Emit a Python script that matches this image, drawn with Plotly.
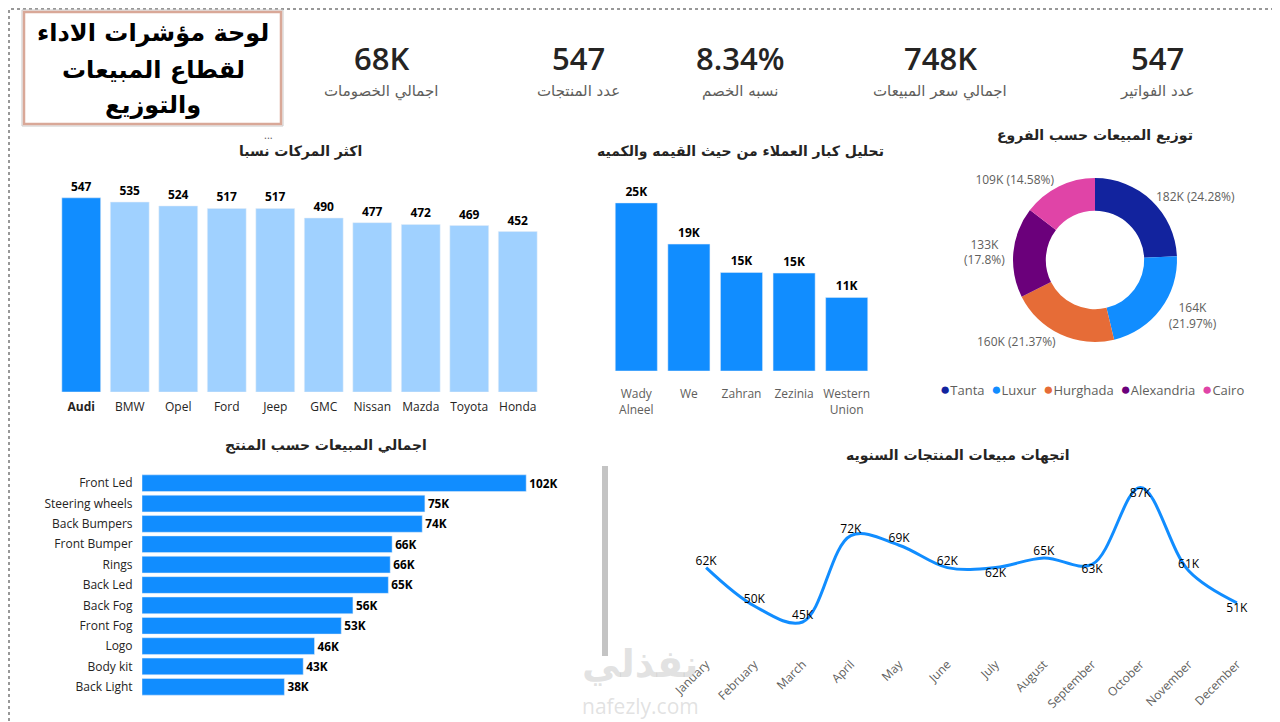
import plotly.graph_objects as go

# ---- data ----
title_lines = ["لوحة مؤشرات الاداء", "لقطاع المبيعات", "والتوزيع"]

kpi_values = ["68K", "547", "8.34%", "748K", "547"]
kpi_labels = ["اجمالي الخصومات", "عدد المنتجات", "نسبه الخصم", "اجمالي سعر المبيعات", "عدد الفواتير"]

brands = ["Audi", "BMW", "Opel", "Ford", "Jeep", "GMC", "Nissan", "Mazda", "Toyota", "Honda"]
brand_counts = [547, 535, 524, 517, 517, 490, 477, 472, 469, 452]

customers = ["Wady<br>Alneel", "We", "Zahran", "Zezinia", "Western<br>Union"]
customer_sales = [24.9, 18.8, 14.6, 14.5, 10.9]  # thousands

branches = ["Tanta", "Luxur", "Hurghada", "Alexandria", "Cairo"]
branch_sales = [181.6, 164.3, 159.8, 133.1, 109.0]  # thousands
branch_colors = ["#12239E", "#118DFF", "#E66C37", "#6B007B", "#E044A7"]

products = ["Front Led", "Steering wheels", "Back Bumpers", "Front Bumper", "Rings", "Back Led",
            "Back Fog", "Front Fog", "Logo", "Body kit", "Back Light"]
product_sales = [102.0, 75.1, 74.4, 66.4, 65.9, 65.4, 56.0, 52.9, 45.8, 42.8, 37.8]  # thousands

months = ["January", "February", "March", "April", "May", "June", "July", "August",
          "September", "October", "November", "December"]
month_sales = [62, 50, 45, 72, 69, 62, 62, 65, 63, 87, 61, 51]  # thousands

BLUE = "#118DFF"
LIGHT = "#A0D1FF"
GREY = "#605E5C"
DARK = "#252423"
AR = "DejaVu Sans"
EN = "Open Sans"

# the page puts the plot 8px in from the top-left corner; positions below are screen pixels
OFF = 8


def px(x):
    return (x - OFF) / 1280


def py(y):
    return 1 - (y - OFF) / 722


fig = go.Figure()

# brands bar chart
fig.add_trace(go.Bar(
    x=brands, y=brand_counts, xaxis="x", yaxis="y",
    marker_color=[BLUE] + [LIGHT] * (len(brands) - 1),
    text=brand_counts, textposition="outside", cliponaxis=False,
    textfont=dict(family=EN, size=12, color="#000", weight="bold"),
    showlegend=False,
))

# customers bar chart
fig.add_trace(go.Bar(
    x=customers, y=customer_sales, xaxis="x2", yaxis="y2",
    marker_color=BLUE,
    texttemplate="%{y:.0f}K", textposition="outside", cliponaxis=False,
    textfont=dict(family=EN, size=12, color="#000", weight="bold"),
    showlegend=False,
))

# branches donut
total = sum(branch_sales)
pie_sep = [" ", "<br>", " ", "<br>", " "]
pie_text = []
for v, sep in zip(branch_sales, pie_sep):
    p = round(v / total * 100, 2)
    pie_text.append(f"{v:.0f}K{sep}({p:g}%)")
fig.add_trace(go.Pie(
    labels=branches, values=branch_sales, text=pie_text, textinfo="text",
    textposition="outside", hole=0.6, sort=False, direction="clockwise",
    marker=dict(colors=branch_colors),
    textfont=dict(family=EN, size=12, color=GREY),
    domain=dict(x=[px(1095 - 122), px(1095 + 122)], y=[py(342), py(178)]),
    showlegend=False,
))

# products horizontal bars
fig.add_trace(go.Bar(
    y=products, x=product_sales, orientation="h", xaxis="x3", yaxis="y3",
    marker_color=BLUE, width=0.82,
    texttemplate="%{x:.0f}K", textposition="outside", cliponaxis=False,
    textfont=dict(family=EN, size=12, color="#000", weight="bold"),
    showlegend=False,
))

# monthly trend line
fig.add_trace(go.Scatter(
    x=months, y=month_sales, xaxis="x4", yaxis="y4", mode="lines+text",
    line=dict(color=BLUE, width=3, shape="spline", smoothing=1.0),
    text=[f"{v}K" for v in month_sales],
    textposition=["top center", "top center", "top center", "top center", "top center",
                  "top center", "bottom center", "top center", "bottom center",
                  "bottom center", "top center", "bottom center"],
    textfont=dict(family=EN, size=12, color="#000"),
    cliponaxis=False, showlegend=False,
))

hidden = dict(visible=False, showgrid=False, zeroline=False, automargin=False)

fig.update_layout(
    width=1280, height=722,
    margin=dict(l=0, r=0, t=0, b=0, autoexpand=False),
    paper_bgcolor="white", plot_bgcolor="white",
    bargap=0.2, showlegend=False,
    xaxis=dict(domain=[px(57), px(542)], anchor="y", showgrid=False, automargin=False,
               ticks="outside", ticklen=4, tickcolor="white",
               tickmode="array", tickvals=brands,
               ticktext=["<b>Audi</b>"] + brands[1:],
               tickfont=dict(family=EN, size=12, color=DARK)),
    yaxis=dict(domain=[py(392), py(179)], range=[0, 600], anchor="x", **hidden),
    xaxis2=dict(domain=[px(610), px(873)], anchor="y2", showgrid=False, automargin=False,
                ticks="outside", ticklen=12, tickcolor="white",
                tickfont=dict(family=EN, size=12, color=GREY)),
    yaxis2=dict(domain=[py(371), py(182)], range=[0, 28], anchor="x2", **hidden),
    xaxis3=dict(domain=[px(142), px(594)], anchor="y3", range=[0, 120], **hidden),
    yaxis3=dict(domain=[py(697), py(473)], anchor="x3", autorange="reversed", automargin=False,
                showgrid=False, ticks="outside", ticklen=6, tickcolor="white",
                tickfont=dict(family=EN, size=12, color=DARK)),
    xaxis4=dict(domain=[px(682), px(1261)], anchor="y4", showgrid=False, ticks="", automargin=False,
                tickangle=-45, range=[-0.5, 11.5],
                tickfont=dict(family=EN, size=12, color=GREY)),
    yaxis4=dict(domain=[py(654), py(462)], anchor="x4", range=[35, 95], **hidden),
    font=dict(family=EN),
)

shapes = [
    # dashboard dotted frame
    dict(type="rect", xref="paper", yref="paper", x0=px(9), y0=py(728), x1=px(1290), y1=py(9),
         line=dict(color="#777", width=1.5, dash="dot")),
    # title box
    dict(type="rect", xref="paper", yref="paper", x0=px(22), y0=py(126), x1=px(283), y1=py(10),
         line=dict(color="#C9C9C9", width=1)),
    dict(type="rect", xref="paper", yref="paper", x0=px(24), y0=py(124), x1=px(281), y1=py(12),
         line=dict(color="#D9A898", width=2.5)),
    # scrollbar
    dict(type="rect", xref="paper", yref="paper", x0=px(602), y0=py(656), x1=px(608), y1=py(466),
         line=dict(width=0), fillcolor="#C4C4C4"),
]

legend_html = "  ".join(
    f"<span style='color:{c};font-size:17px'>●</span>{name}" for name, c in zip(branches, branch_colors)
)

annotations = [
    dict(text="<b>اكثر المركات نسبا</b>", x=px(300), y=py(151), font=dict(family=AR, size=14, color=DARK)),
    dict(text="...", x=px(268), y=py(134), font=dict(family=EN, size=11, color=GREY)),
    dict(text="<b>تحليل كبار العملاء من حيث القيمه والكميه</b>", x=px(740), y=py(151),
         font=dict(family=AR, size=14, color=DARK)),
    dict(text="<b>توزيع المبيعات حسب الفروع</b>", x=px(1095), y=py(136), font=dict(family=AR, size=14, color=DARK)),
    dict(text="<b>اجمالي المبيعات حسب المنتج</b>", x=px(326), y=py(445), font=dict(family=AR, size=14, color=DARK)),
    dict(text="<b>اتجهات مبيعات المنتجات السنويه</b>", x=px(958), y=py(455), font=dict(family=AR, size=14, color=DARK)),
    dict(text=legend_html, x=px(1092), y=py(388), font=dict(family=EN, size=13, color=GREY)),
    # watermark
    dict(text="<b>نفذلي</b>", x=px(640), y=py(664), font=dict(family=AR, size=38, color="rgba(190,190,190,0.45)")),
    dict(text="nafezly.com", x=px(640), y=py(706), font=dict(family=EN, size=21, color="rgba(190,190,190,0.45)")),
]

for yv, line in zip([33, 70, 105], title_lines):
    annotations.append(dict(text=f"<b>{line}</b>", x=px(153), y=py(yv),
                            font=dict(family=AR, size=24, color="#000")))

kpi_x = [381, 578, 740, 940, 1157]
for xv, val, lab in zip(kpi_x, kpi_values, kpi_labels):
    annotations.append(dict(text=val, x=px(xv), y=py(58), font=dict(family=EN, size=31, color=DARK, weight=600)))
    annotations.append(dict(text=lab, x=px(xv), y=py(91), font=dict(family=AR, size=15, color=GREY)))

for a in annotations:
    a.update(xref="paper", yref="paper", showarrow=False, xanchor="center", yanchor="middle")

fig.update_layout(shapes=shapes, annotations=annotations)

fig.write_html("out.html")
